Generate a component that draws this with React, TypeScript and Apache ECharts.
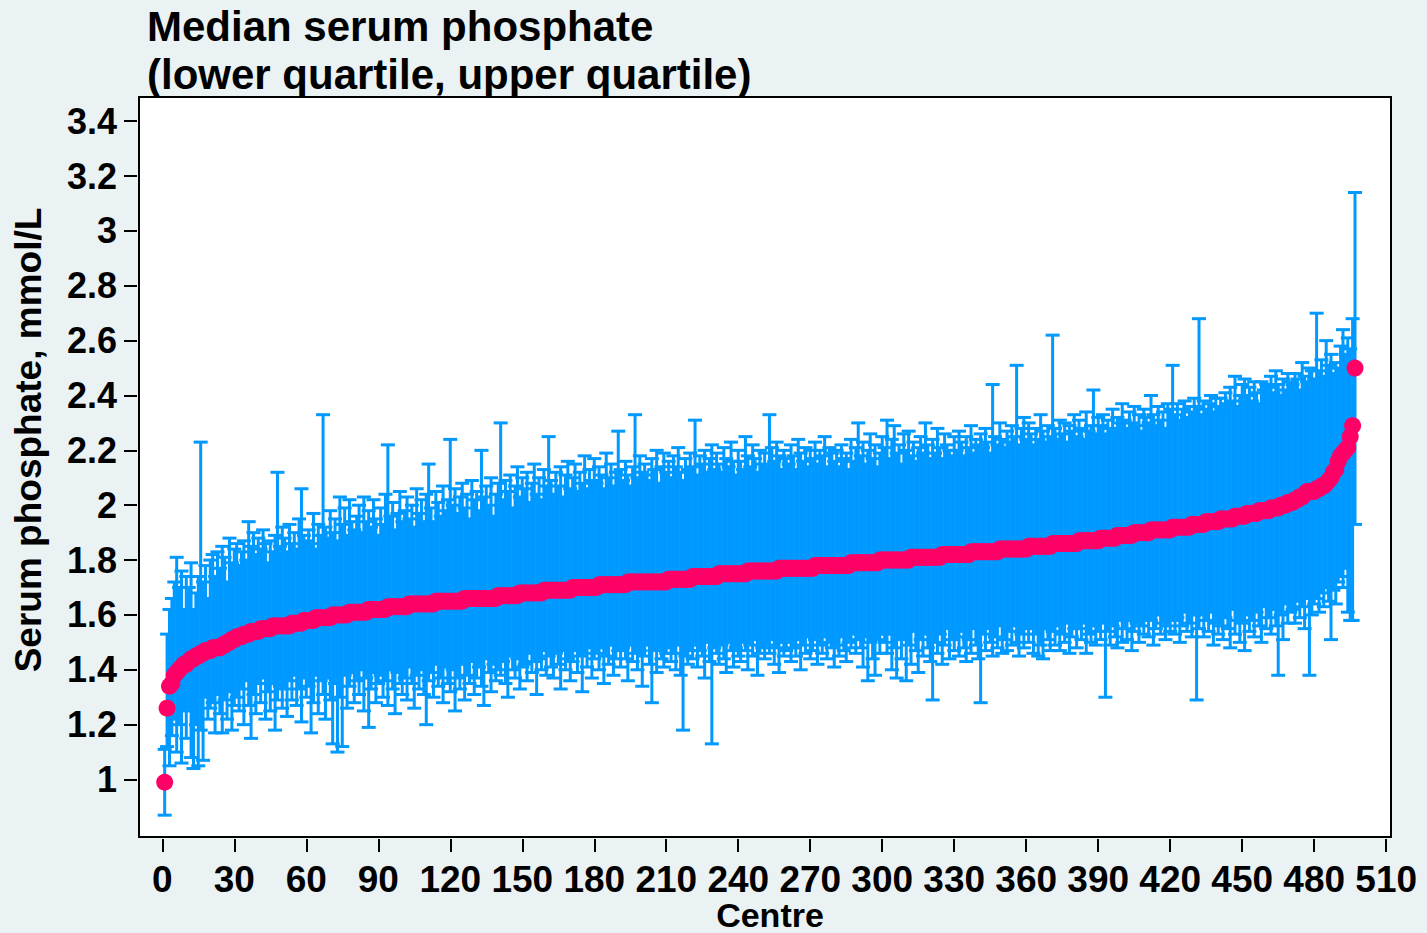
import React, { useEffect, useRef } from "react";
import * as echarts from "echarts";

// Median serum phosphate per centre (sorted), mmol/L
const median: number[] = [
  0.99,1.26,1.34,1.35,1.38,1.39,1.40,1.41,1.42,1.42,
  1.43,1.44,1.44,1.45,1.45,1.46,1.46,1.47,1.47,1.47,
  1.48,1.48,1.48,1.48,1.49,1.49,1.50,1.50,1.51,1.51,
  1.52,1.52,1.52,1.53,1.53,1.53,1.54,1.54,1.54,1.54,
  1.55,1.55,1.55,1.55,1.55,1.56,1.56,1.56,1.56,1.56,
  1.56,1.56,1.56,1.57,1.57,1.57,1.57,1.57,1.58,1.58,
  1.58,1.58,1.58,1.59,1.59,1.59,1.59,1.59,1.59,1.59,
  1.60,1.60,1.60,1.60,1.60,1.60,1.60,1.61,1.61,1.61,
  1.61,1.61,1.61,1.61,1.61,1.62,1.62,1.62,1.62,1.62,
  1.62,1.62,1.62,1.63,1.63,1.63,1.63,1.63,1.63,1.63,
  1.63,1.63,1.64,1.64,1.64,1.64,1.64,1.64,1.64,1.64,
  1.64,1.64,1.64,1.65,1.65,1.65,1.65,1.65,1.65,1.65,
  1.65,1.65,1.65,1.65,1.65,1.66,1.66,1.66,1.66,1.66,
  1.66,1.66,1.66,1.66,1.66,1.66,1.66,1.66,1.66,1.67,
  1.67,1.67,1.67,1.67,1.67,1.67,1.67,1.67,1.68,1.68,
  1.68,1.68,1.68,1.68,1.68,1.68,1.68,1.68,1.69,1.69,
  1.69,1.69,1.69,1.69,1.69,1.69,1.69,1.69,1.69,1.69,
  1.70,1.70,1.70,1.70,1.70,1.70,1.70,1.70,1.70,1.70,
  1.70,1.71,1.71,1.71,1.71,1.71,1.71,1.71,1.71,1.71,
  1.71,1.71,1.71,1.72,1.72,1.72,1.72,1.72,1.72,1.72,
  1.72,1.72,1.72,1.72,1.72,1.72,1.72,1.72,1.72,1.72,
  1.73,1.73,1.73,1.73,1.73,1.73,1.73,1.73,1.73,1.73,
  1.74,1.74,1.74,1.74,1.74,1.74,1.74,1.74,1.74,1.74,
  1.74,1.75,1.75,1.75,1.75,1.75,1.75,1.75,1.75,1.75,
  1.75,1.75,1.75,1.76,1.76,1.76,1.76,1.76,1.76,1.76,
  1.76,1.76,1.76,1.76,1.76,1.76,1.77,1.77,1.77,1.77,
  1.77,1.77,1.77,1.77,1.77,1.77,1.77,1.77,1.77,1.77,
  1.77,1.78,1.78,1.78,1.78,1.78,1.78,1.78,1.78,1.78,
  1.78,1.78,1.78,1.78,1.78,1.78,1.79,1.79,1.79,1.79,
  1.79,1.79,1.79,1.79,1.79,1.79,1.79,1.79,1.80,1.80,
  1.80,1.80,1.80,1.80,1.80,1.80,1.80,1.80,1.80,1.80,
  1.80,1.81,1.81,1.81,1.81,1.81,1.81,1.81,1.81,1.81,
  1.81,1.81,1.81,1.81,1.82,1.82,1.82,1.82,1.82,1.82,
  1.82,1.82,1.82,1.82,1.82,1.82,1.83,1.83,1.83,1.83,
  1.83,1.83,1.83,1.83,1.83,1.83,1.83,1.83,1.84,1.84,
  1.84,1.84,1.84,1.84,1.84,1.84,1.84,1.84,1.84,1.84,
  1.85,1.85,1.85,1.85,1.85,1.85,1.85,1.85,1.85,1.85,
  1.86,1.86,1.86,1.86,1.86,1.86,1.86,1.86,1.86,1.86,
  1.86,1.87,1.87,1.87,1.87,1.87,1.87,1.87,1.87,1.87,
  1.88,1.88,1.88,1.88,1.88,1.88,1.88,1.89,1.89,1.89,
  1.89,1.89,1.89,1.89,1.90,1.90,1.90,1.90,1.90,1.90,
  1.90,1.91,1.91,1.91,1.91,1.91,1.91,1.91,1.91,1.91,
  1.92,1.92,1.92,1.92,1.92,1.92,1.92,1.92,1.93,1.93,
  1.93,1.93,1.93,1.93,1.94,1.94,1.94,1.94,1.94,1.94,
  1.95,1.95,1.95,1.95,1.95,1.95,1.96,1.96,1.96,1.96,
  1.96,1.97,1.97,1.97,1.97,1.97,1.98,1.98,1.98,1.98,
  1.98,1.99,1.99,1.99,1.99,2.00,2.00,2.00,2.01,2.01,
  2.01,2.02,2.02,2.03,2.03,2.04,2.05,2.05,2.05,2.05,
  2.06,2.06,2.07,2.07,2.08,2.09,2.10,2.12,2.13,2.16,
  2.18,2.19,2.20,2.21,2.25,2.29,2.50,
];

// Upper quartile per centre
const upper: number[] = [
  1.11,1.53,1.62,1.66,1.72,1.81,1.70,1.76,1.62,1.74,
  1.70,1.79,1.62,1.68,1.74,2.23,1.72,1.78,1.66,1.80,
  1.82,1.74,1.83,1.77,1.85,1.81,1.72,1.88,1.79,1.84,
  1.86,1.78,1.83,1.87,1.80,1.94,1.85,1.90,1.82,1.88,
  1.84,1.91,1.86,1.79,1.87,1.83,1.89,2.12,1.85,1.92,
  1.88,1.83,1.93,1.86,1.90,1.84,1.95,2.06,1.89,1.87,
  1.91,1.86,1.97,1.84,1.93,1.89,2.33,1.92,1.88,1.98,
  1.90,1.95,1.87,2.03,1.93,1.99,1.89,2.02,1.94,1.91,
  1.96,2.00,1.90,2.03,1.94,1.98,1.92,2.02,1.95,1.89,
  1.99,1.93,2.04,2.22,1.96,2.01,1.91,1.97,2.05,1.94,
  1.98,2.03,1.95,2.00,1.92,2.06,1.97,2.02,1.94,2.04,
  2.15,1.99,1.94,2.05,2.01,1.96,2.07,1.98,2.02,2.24,
  2.00,2.06,1.97,2.03,2.08,1.99,2.04,1.95,2.09,2.02,
  2.05,1.98,2.20,2.03,2.07,2.00,2.10,1.96,2.04,2.08,
  2.30,2.02,2.09,2.05,2.11,1.99,2.07,2.14,2.03,2.10,
  2.06,2.12,2.01,2.08,2.15,2.04,2.10,2.02,2.13,2.07,
  2.25,2.09,2.04,2.12,2.07,2.14,2.03,2.11,2.16,2.06,
  2.10,2.15,2.05,2.12,2.08,2.18,2.06,2.13,2.09,2.17,
  2.08,2.14,2.11,2.06,2.19,2.10,2.15,2.07,2.12,2.27,
  2.13,2.09,2.16,2.11,2.07,2.14,2.33,2.10,2.18,2.12,
  2.15,2.11,2.09,2.17,2.13,2.20,2.08,2.14,2.19,2.12,
  2.16,2.10,2.18,2.14,2.21,2.12,2.09,2.17,2.13,2.19,
  2.14,2.31,2.11,2.18,2.15,2.20,2.12,2.17,2.22,2.13,
  2.19,2.15,2.12,2.21,2.17,2.14,2.23,2.16,2.11,2.20,
  2.16,2.13,2.25,2.18,2.14,2.22,2.17,2.12,2.20,2.15,
  2.19,2.14,2.33,2.21,2.16,2.23,2.18,2.13,2.20,2.17,
  2.15,2.22,2.18,2.13,2.24,2.19,2.16,2.21,2.14,2.20,
  2.17,2.23,2.15,2.20,2.18,2.25,2.14,2.21,2.19,2.16,
  2.20,2.14,2.22,2.17,2.19,2.13,2.24,2.16,2.21,2.30,
  2.18,2.23,2.15,2.20,2.26,2.17,2.22,2.14,2.19,2.25,
  2.21,2.31,2.17,2.24,2.29,2.19,2.22,2.15,2.26,2.20,
  2.27,2.18,2.23,2.16,2.21,2.25,2.19,2.30,2.22,2.17,
  2.24,2.19,2.28,2.21,2.17,2.26,2.22,2.20,2.18,2.25,
  2.20,2.27,2.23,2.18,2.25,2.21,2.29,2.19,2.24,2.22,
  2.26,2.21,2.28,2.23,2.19,2.44,2.25,2.22,2.30,2.24,
  2.21,2.27,2.23,2.29,2.25,2.51,2.22,2.28,2.32,2.24,
  2.30,2.26,2.22,2.28,2.24,2.33,2.27,2.23,2.29,2.25,
  2.62,2.28,2.24,2.31,2.26,2.30,2.23,2.29,2.27,2.33,
  2.25,2.31,2.28,2.24,2.34,2.27,2.29,2.42,2.26,2.32,
  2.29,2.33,2.26,2.31,2.28,2.35,2.27,2.32,2.30,2.37,
  2.31,2.28,2.34,2.30,2.36,2.29,2.33,2.27,2.35,2.32,
  2.30,2.40,2.33,2.29,2.36,2.31,2.34,2.28,2.37,2.35,
  2.51,2.33,2.37,2.31,2.35,2.38,2.32,2.36,2.34,2.39,
  2.36,2.68,2.33,2.38,2.35,2.37,2.40,2.34,2.39,2.36,
  2.39,2.35,2.41,2.37,2.43,2.38,2.47,2.36,2.40,2.44,
  2.46,2.40,2.43,2.38,2.45,2.41,2.37,2.45,2.42,2.44,
  2.43,2.47,2.41,2.49,2.44,2.40,2.46,2.42,2.48,2.45,
  2.44,2.48,2.46,2.42,2.52,2.47,2.45,2.50,2.49,2.46,
  2.70,2.49,2.53,2.47,2.60,2.51,2.55,2.48,2.52,2.50,
  2.58,2.64,2.55,2.61,2.57,2.68,3.14,
];

// Lower quartile per centre
const lower: number[] = [
  0.87,1.12,1.05,1.16,1.22,1.10,1.20,1.06,1.25,1.15,
  1.26,1.08,1.04,1.20,1.05,1.18,1.07,1.30,1.22,1.26,
  1.28,1.17,1.31,1.24,1.17,1.29,1.22,1.32,1.18,1.27,
  1.30,1.25,1.33,1.20,1.36,1.27,1.15,1.31,1.24,1.35,
  1.28,1.37,1.22,1.32,1.25,1.35,1.18,1.29,1.34,1.26,
  1.33,1.23,1.36,1.29,1.38,1.27,1.33,1.21,1.37,1.30,
  1.34,1.17,1.28,1.38,1.24,1.36,1.31,1.22,1.37,1.29,
  1.13,1.35,1.10,1.30,1.12,1.38,1.26,1.34,1.39,1.28,
  1.36,1.31,1.40,1.25,1.37,1.19,1.33,1.39,1.28,1.35,
  1.38,1.30,1.36,1.27,1.40,1.33,1.24,1.39,1.35,1.31,
  1.37,1.29,1.41,1.35,1.26,1.38,1.33,1.40,1.31,1.20,
  1.36,1.39,1.30,1.42,1.34,1.37,1.28,1.41,1.35,1.32,
  1.40,1.25,1.37,1.33,1.42,1.29,1.38,1.35,1.43,1.31,
  1.37,1.41,1.34,1.27,1.44,1.39,1.32,1.42,1.36,1.40,
  1.38,1.43,1.35,1.30,1.45,1.40,1.37,1.44,1.33,1.41,
  1.42,1.36,1.46,1.39,1.43,1.31,1.44,1.40,1.47,1.38,
  1.45,1.41,1.37,1.46,1.42,1.33,1.47,1.40,1.44,1.36,
  1.43,1.47,1.39,1.45,1.32,1.46,1.41,1.48,1.37,1.44,
  1.46,1.40,1.48,1.35,1.45,1.42,1.49,1.38,1.44,1.47,
  1.41,1.48,1.44,1.36,1.49,1.43,1.46,1.40,1.47,1.34,
  1.45,1.49,1.42,1.28,1.47,1.39,1.48,1.44,1.41,1.46,
  1.48,1.43,1.46,1.40,1.49,1.38,1.18,1.45,1.42,1.47,
  1.44,1.49,1.41,1.47,1.45,1.37,1.50,1.43,1.13,1.48,
  1.46,1.42,1.49,1.44,1.39,1.50,1.47,1.41,1.48,1.45,
  1.43,1.50,1.47,1.40,1.49,1.45,1.51,1.38,1.46,1.48,
  1.44,1.49,1.46,1.51,1.42,1.48,1.39,1.50,1.45,1.47,
  1.50,1.43,1.48,1.45,1.51,1.40,1.49,1.46,1.52,1.44,
  1.47,1.51,1.42,1.49,1.46,1.52,1.44,1.50,1.48,1.41,
  1.49,1.45,1.52,1.47,1.43,1.50,1.48,1.53,1.46,1.51,
  1.48,1.41,1.52,1.36,1.50,1.44,1.38,1.51,1.46,1.53,
  1.50,1.46,1.53,1.40,1.48,1.37,1.51,1.44,1.52,1.36,
  1.49,1.42,1.54,1.47,1.39,1.51,1.45,1.53,1.48,1.43,
  1.29,1.50,1.46,1.53,1.42,1.49,1.55,1.44,1.51,1.47,
  1.52,1.45,1.54,1.48,1.43,1.51,1.46,1.55,1.49,1.44,
  1.28,1.53,1.47,1.55,1.50,1.45,1.52,1.48,1.56,1.46,
  1.51,1.47,1.54,1.49,1.56,1.50,1.45,1.53,1.48,1.55,
  1.50,1.56,1.46,1.53,1.45,1.49,1.44,1.55,1.51,1.47,
  1.54,1.49,1.56,1.47,1.53,1.50,1.57,1.46,1.52,1.55,
  1.48,1.55,1.51,1.57,1.46,1.53,1.50,1.56,1.49,1.54,
  1.51,1.57,1.30,1.54,1.49,1.56,1.52,1.48,1.58,1.50,
  1.55,1.51,1.58,1.47,1.54,1.57,1.50,1.56,1.53,1.59,
  1.52,1.58,1.49,1.55,1.60,1.53,1.57,1.51,1.56,1.54,
  1.58,1.53,1.59,1.50,1.56,1.61,1.54,1.57,1.52,1.60,
  1.29,1.55,1.60,1.52,1.58,1.54,1.61,1.49,1.57,1.53,
  1.56,1.51,1.59,1.55,1.48,1.62,1.53,1.58,1.50,1.57,
  1.47,1.60,1.54,1.58,1.52,1.61,1.56,1.50,1.63,1.55,
  1.59,1.53,1.62,1.56,1.38,1.60,1.51,1.64,1.57,1.61,
  1.62,1.57,1.65,1.59,1.63,1.55,1.66,1.38,1.60,1.64,
  1.66,1.61,1.68,1.63,1.70,1.65,1.51,1.69,1.64,1.72,
  1.74,1.70,1.77,1.61,1.58,1.58,1.93,
];

// Centre numbers (x positions)
const centres: number[] = median.map((_, i) => i + 1);

const xTicks: number[] = [0, 30, 60, 90, 120, 150, 180, 210, 240, 270, 300, 330, 360, 390, 420, 450, 480, 510];
const yTicks: number[] = [1, 1.2, 1.4, 1.6, 1.8, 2, 2.2, 2.4, 2.6, 2.8, 3, 3.2, 3.4];

const titleLines: string[] = ["Median serum phosphate", "(lower quartile, upper quartile)"];
const yName = "Serum phosphate, mmol/L";
const xName = "Centre";

const BLUE = "#0099FF";
const PINK = "#FF0066";
const BG = "#EAF2F3";
const FONT = "'Liberation Sans', Arial, Helvetica, sans-serif";

export default function App() {
  const ref = useRef<HTMLDivElement>(null);

  useEffect(() => {
    if (!ref.current) return;
    const chart = echarts.init(ref.current, undefined, { renderer: "svg" });

    const barData = centres.map((c, i) => [c, lower[i], upper[i]]);
    const medData = centres.map((c, i) => [c, median[i]]);

    const option: any = {
      animation: false,
      backgroundColor: BG,
      title: {
        text: titleLines.join("\n"),
        left: 147,
        top: 2,
        padding: 0,
        textStyle: {
          fontFamily: FONT,
          fontSize: 42,
          fontWeight: "bold",
          lineHeight: 48,
          color: "#000",
        },
      },
      grid: {
        left: 139,
        right: 36,
        top: 97,
        bottom: 96,
        show: true,
        backgroundColor: "#FFFFFF",
        borderColor: "#000",
        borderWidth: 2,
        containLabel: false,
      },
      xAxis: {
        type: "value",
        min: -9.7,
        max: 512,
        offset: 2,
        axisLine: { show: false, onZero: false },
        splitLine: { show: false },
        axisTick: {
          show: true,
          inside: false,
          length: 13,
          customValues: xTicks,
          lineStyle: { color: "#000", width: 2 },
        },
        axisLabel: {
          customValues: xTicks,
          margin: 25,
          lineHeight: 30,
          color: "#000",
          fontFamily: FONT,
          fontSize: 37,
          fontWeight: "bold",
          formatter: (v: number) => String(v),
        },
      },
      yAxis: {
        type: "value",
        min: 0.7904,
        max: 3.4882,
        offset: 2,
        axisLine: { show: false, onZero: false },
        splitLine: { show: false },
        axisTick: {
          show: true,
          inside: false,
          length: 13,
          customValues: yTicks,
          lineStyle: { color: "#000", width: 2 },
        },
        axisLabel: {
          customValues: yTicks,
          margin: 20,
          color: "#000",
          fontFamily: FONT,
          fontSize: 36,
          fontWeight: "bold",
          formatter: (v: number) => String(Math.round(v * 10) / 10),
        },
      },
      graphic: [
        {
          type: "text",
          x: 28,
          y: 440,
          rotation: Math.PI / 2,
          style: {
            text: yName,
            fontFamily: FONT,
            fontSize: 37,
            fontWeight: "bold",
            fill: "#000",
            align: "center",
            verticalAlign: "middle",
          },
        },
        {
          type: "text",
          x: 770,
          y: 915,
          style: {
            text: xName,
            fontFamily: FONT,
            fontSize: 34,
            lineHeight: 32,
            fontWeight: "bold",
            fill: "#000",
            align: "center",
            verticalAlign: "middle",
          },
        },
      ],
      series: [
        {
          type: "custom",
          data: barData,
          encode: { x: 0, y: [1, 2] },
          clip: true,
          z: 2,
          renderItem: (params: any, api: any) => {
            const x = api.value(0);
            const lo = api.coord([x, api.value(1)]);
            const hi = api.coord([x, api.value(2)]);
            const hw = 7;
            const style = { stroke: BLUE, lineWidth: 3, fill: "none" };
            return {
              type: "group",
              children: [
                { type: "line", shape: { x1: lo[0], y1: lo[1], x2: hi[0], y2: hi[1] }, style },
                { type: "line", shape: { x1: lo[0] - hw, y1: lo[1], x2: lo[0] + hw, y2: lo[1] }, style },
                { type: "line", shape: { x1: hi[0] - hw, y1: hi[1], x2: hi[0] + hw, y2: hi[1] }, style },
              ],
            };
          },
        },
        {
          type: "scatter",
          data: medData,
          symbol: "circle",
          symbolSize: 17,
          itemStyle: { color: PINK, opacity: 1 },
          z: 3,
        },
      ],
    };

    chart.setOption(option);
    return () => chart.dispose();
  }, []);

  return (
    <div
      ref={ref}
      style={{ position: "fixed", left: 0, top: 0, width: 1427, height: 933 }}
    />
  );
}
